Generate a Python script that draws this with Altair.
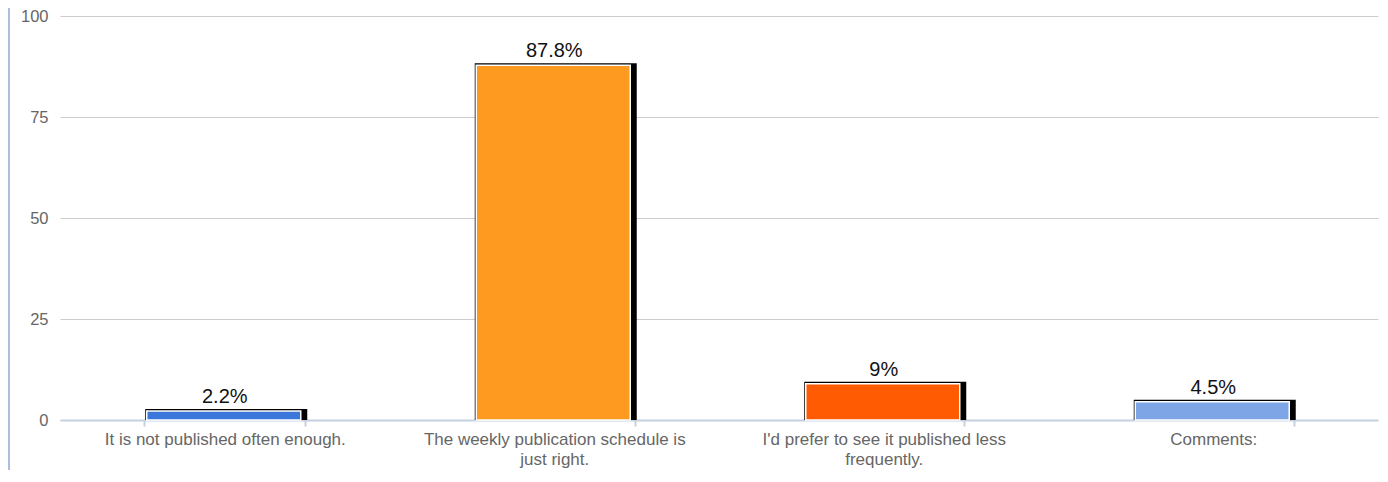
import altair as alt
import pandas as pd

categories = [
    "It is not published often enough.",
    "The weekly publication schedule is just right.",
    "I'd prefer to see it published less frequently.",
    "Comments:",
]
values = [2.2, 87.8, 9.0, 4.5]
labels = ["2.2%", "87.8%", "9%", "4.5%"]
colors = ["#3b77db", "#fd9a1f", "#fe5b03", "#7ea6e6"]
line1 = ["It is not published often enough.", "The weekly publication schedule is", "I'd prefer to see it published less", "Comments:"]
line2 = ["", "just right.", "frequently.", ""]

df = pd.DataFrame({"cat": categories, "value": values, "label": labels, "color": colors})

label_expr = " : ".join(
    f"datum.label == \"{c}\" ? [\"{a}\", \"{b}\"]" for c, a, b in zip(categories, line1, line2)
) + " : datum.label"

FONT = "Liberation Sans"

x = alt.X(
    "cat:N",
    sort=categories,
    title=None,
    scale=alt.Scale(paddingInner=0.51, paddingOuter=0.255),
    axis=alt.Axis(
        labelAngle=0,
        labelExpr=label_expr,
        labelColor="#666666",
        labelFontSize=17,
        labelFont=FONT,
        labelPadding=5,
        labelLineHeight=20,
        labelLimit=400,
        domainColor="#c5d1df",
        domainWidth=2,
        tickColor="#c5d1df",
        tickWidth=2,
        tickSize=6,
        tickBand="extent",
        grid=False,
    ),
)
y_axis = alt.Axis(
    values=[0, 25, 50, 75, 100],
    labelColor="#666666",
    labelFontSize=16.5,
    labelFont=FONT,
    labelPadding=12,
    ticks=False,
    domain=False,
    gridColor="#cccccc",
    title=None,
)
y = alt.Y("value:Q", scale=alt.Scale(domain=[0, 100]), axis=y_axis)

base = alt.Chart(df)

shadow = base.mark_bar(color="black", size=162, xOffset=1.5, yOffset=-2).encode(
    x=x, y=y, y2=alt.datum(0)
)
inner = base.mark_bar(size=154, xOffset=-1, stroke="white", strokeWidth=1.5).encode(
    x=x,
    y=y,
    y2=alt.datum(0),
    color=alt.Color("color:N", scale=None),
)
text = base.mark_text(
    dy=-14, fontSize=20, font=FONT, color="#111111"
).encode(x=x, y=y, text="label:N")

frame = alt.Chart(df).mark_rule(color="#a9bfdc", strokeWidth=2).encode(
    x=alt.value(-51), y=alt.value(-8), y2=alt.value(462)
)

chart = (
    alt.layer(shadow, inner, text, frame)
    .properties(
        width=1318,
        height=404,
        background="white",
        autosize=alt.AutoSizeParams(type="none"),
        padding={"left": 52, "top": 8, "right": 2, "bottom": 50},
    )
    .configure_view(stroke="transparent", strokeWidth=0)
    .configure_axisX(grid=False)
)

chart.save("out.html", embed_options={"renderer": "svg", "actions": False})
